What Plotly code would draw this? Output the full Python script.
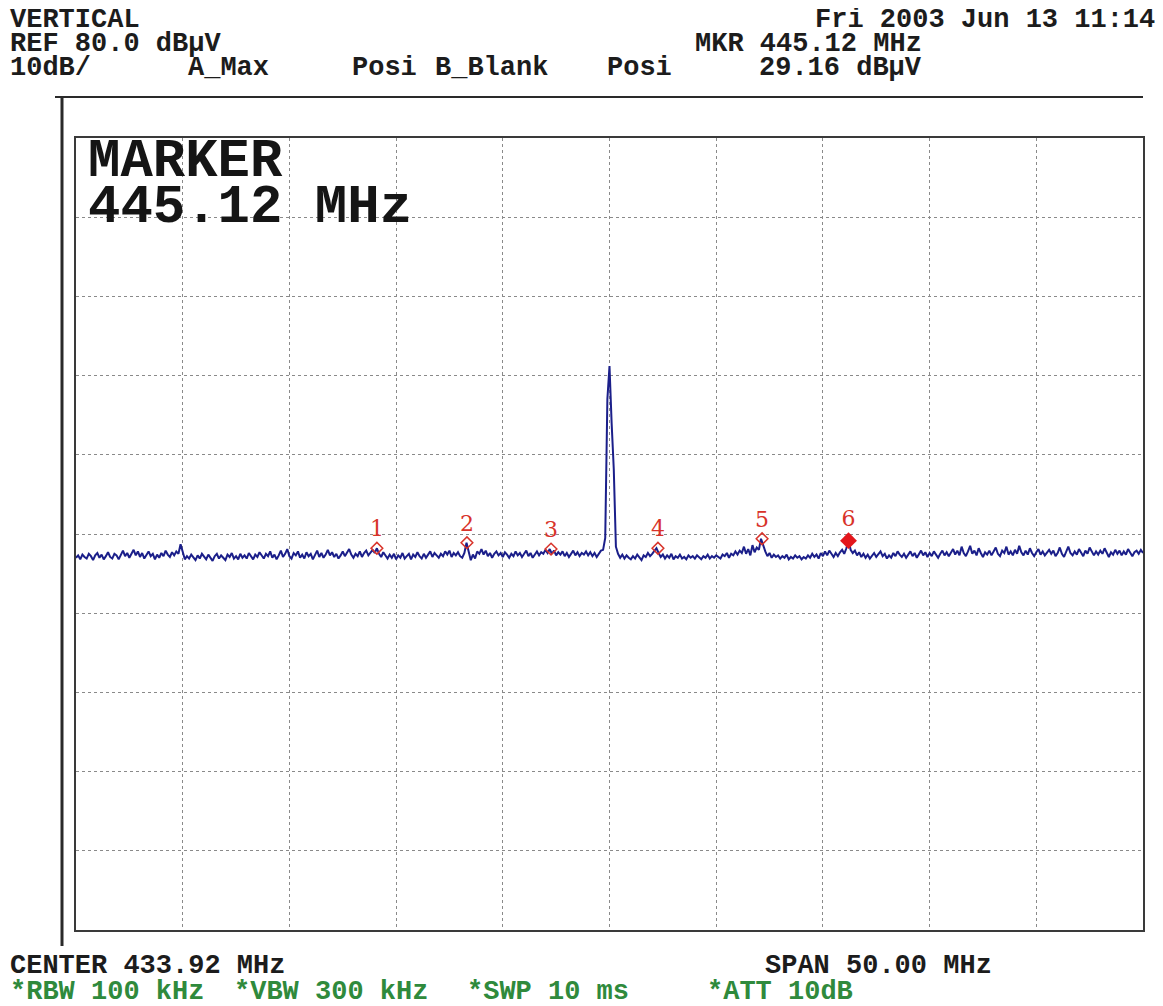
"""
Spectrum analyzer screen capture recreated with Plotly: noise floor + one carrier.
"""

import plotly.graph_objects as go

CENTER_MHZ = 433.92
SPAN_MHZ = 50.0
REF_DBUV = 80.0
DB_PER_DIV = 10.0
STEP_MHZ = 0.1

# trace A (max hold), one value per 0.1 MHz from the left edge of the screen
levels = [
    27.0, 27.3, 26.8, 27.4, 27.1, 26.9, 27.5, 27.2, 26.7, 27.3,
    27.6, 27.0, 27.4, 26.8, 27.2, 27.7, 27.1, 26.9, 27.5, 27.3,
    26.8, 27.4, 27.9, 27.2, 27.6, 27.0, 27.5, 28.0, 27.3, 27.8,
    27.1, 27.6, 26.9, 27.3, 27.8, 27.2, 27.5, 26.8, 27.4, 27.0,
    27.6, 27.2, 27.9, 27.4, 27.1, 27.7, 27.3, 27.8, 27.5, 28.7,
    27.6, 26.8, 27.2, 26.9, 27.4, 27.0, 26.7, 27.3, 26.9, 27.5,
    27.1, 26.8, 27.4, 27.0, 26.6, 27.2, 27.5, 26.9, 27.3, 27.0,
    26.7, 27.4, 27.1, 27.6, 26.9, 27.2, 26.8, 27.5, 27.0, 27.3,
    26.9, 27.6, 27.2, 26.8, 27.4, 27.1, 27.7, 27.3, 26.9, 27.5,
    27.2, 27.8, 27.0, 27.4, 26.8, 27.3, 27.9, 27.1, 27.5, 28.1,
    27.2, 26.9, 27.6, 27.3, 27.8, 27.0, 27.4, 26.9, 27.7, 27.2,
    27.5, 26.8, 27.3, 27.9, 27.1, 27.6, 27.0, 27.4, 28.0, 27.3,
    27.7, 27.1, 27.5, 26.9, 27.3, 27.8, 27.2, 27.6, 28.1, 27.4,
    27.0, 27.5, 27.2, 27.8, 27.1, 27.6, 27.9, 27.3, 27.7, 28.0,
    27.6, 28.2, 27.5, 27.1, 27.7, 27.3, 26.9, 27.4, 27.0, 27.5,
    26.8, 27.3, 27.0, 27.6, 26.9, 27.2, 27.5, 26.8, 27.4, 27.1,
    27.7, 27.2, 26.9, 27.5, 27.0, 27.4, 27.8, 27.1, 27.6, 27.3,
    27.0, 27.5, 27.2, 27.8, 27.4, 27.9, 27.1, 27.6, 27.3, 27.7,
    27.2, 27.0, 27.6, 28.9, 27.8, 26.7, 27.4, 26.9, 27.8, 27.5,
    28.1, 27.4, 27.9, 27.2, 27.6, 27.0, 27.5, 27.8, 27.3, 27.6,
    27.1, 27.7, 27.4, 27.0, 27.5, 27.2, 27.8, 27.3, 27.6, 27.1,
    27.5, 27.9, 27.2, 27.6, 27.0, 27.4, 27.8, 27.3, 27.7, 27.5,
    28.0, 27.6, 28.1, 27.5, 27.9, 27.3, 27.7, 27.4, 27.8, 27.2,
    27.6, 27.1, 27.5, 27.9, 27.3, 27.7, 27.2, 27.6, 27.4, 27.8,
    27.3, 27.7, 27.2, 27.6, 27.1, 27.5, 27.9, 28.0, 29.5, 47.0,
    51.2, 44.0, 38.2, 28.4, 27.5, 27.0, 27.4, 26.9, 27.3, 27.0,
    26.8, 27.2, 26.9, 27.4, 27.0, 26.7, 27.3, 27.1, 27.6, 27.2,
    27.5, 27.8, 28.2, 27.6, 27.1, 27.4, 26.9, 27.3, 27.0, 27.5,
    26.8, 27.2, 27.0, 27.4, 26.9, 27.1, 26.8, 27.3, 27.0, 27.2,
    26.9, 27.3, 27.1, 26.8, 27.2, 27.0, 27.4, 26.9, 27.2, 27.0,
    27.3, 27.1, 26.9, 27.4, 27.2, 27.6, 27.0, 27.5, 27.3, 27.8,
    27.4, 27.9, 27.6, 28.4, 27.5, 28.1, 27.3, 28.6, 27.7, 28.3,
    28.0, 29.4, 28.5, 27.8, 27.2, 27.6, 27.0, 27.4, 27.1, 27.3,
    26.9, 27.2, 27.0, 27.4, 26.8, 27.1, 26.9, 27.3, 27.0, 27.2,
    26.8, 27.1, 26.9, 27.3, 27.0, 27.5, 27.1, 27.4, 26.9, 27.6,
    27.2, 27.8, 27.3, 27.9, 27.5, 27.1, 27.6, 27.2, 27.7, 28.0,
    27.5, 28.2, 29.2, 28.0, 27.6, 27.9, 27.3, 27.7, 27.1, 27.5,
    27.0, 27.4, 26.9, 27.3, 27.6, 27.1, 27.4, 27.8, 27.2, 27.5,
    26.9, 27.3, 27.0, 27.6, 27.2, 27.8, 27.4, 27.1, 27.5, 27.0,
    27.4, 27.8, 27.2, 27.6, 27.0, 27.5, 27.9, 27.3, 27.7, 27.1,
    27.6, 27.2, 27.8, 27.4, 27.0, 27.5, 27.9, 27.3, 27.7, 27.2,
    27.6, 28.1, 27.4, 27.9, 27.3, 28.4, 27.6, 27.2, 27.8, 28.5,
    27.5, 27.9, 27.3, 28.2, 27.6, 27.1, 27.7, 27.4, 27.9, 27.3,
    27.8, 28.3, 27.5, 27.2, 27.9, 27.6, 28.4, 27.4, 27.8, 27.3,
    28.0, 27.5, 28.5, 27.7, 27.3, 27.9, 27.4, 28.2, 27.6, 27.2,
    27.7, 28.1, 27.4, 27.8, 27.3, 27.6, 28.0, 27.5, 27.9, 27.2,
    27.6, 28.3, 27.5, 27.1, 27.7, 28.4, 27.6, 27.3, 27.8, 27.4,
    28.1, 27.6, 27.2, 27.9, 27.5, 28.3, 27.7, 27.3, 27.8, 27.4,
    27.9, 27.5, 28.2, 27.6, 27.1, 27.7, 27.4, 28.0, 27.5, 27.9,
    27.3, 27.8, 27.4, 28.1, 27.6, 27.2, 27.7, 27.9, 27.5, 28.0,
    27.6,
]

marker_labels = ["1", "2", "3", "4", "5", "6"]
marker_mhz = [423.02, 427.24, 431.18, 436.19, 441.07, 445.12]
marker_dbuv = [28.2, 28.9, 28.1, 28.2, 29.4, 29.16]

f_start = CENTER_MHZ - SPAN_MHZ / 2
f_stop = CENTER_MHZ + SPAN_MHZ / 2
freqs = [f_start + i * STEP_MHZ for i in range(len(levels))]

# the page body adds 8 px, so the figure is 8 px smaller and layout pixels
# below are given in screen coordinates then shifted
OFF = 8
W, H = 1163 - OFF, 1006 - OFF
L, R, T, B = 76 - OFF, 20, 138 - OFF, 76
PW, PH = W - L - R, H - T - B


def px(x):
    return (x - OFF - L) / PW


def py(y):
    return (H - B - (y - OFF)) / PH


HDR_FONT = dict(family="Liberation Mono", size=27, color="#1c1c1c", weight="bold")
BIG_FONT = dict(family="Liberation Mono", size=54, color="#151515", weight="bold")
GREEN = "#2f8a3c"
RED = "#d8332a"

fig = go.Figure()
fig.add_trace(go.Scatter(
    x=freqs, y=levels, mode="lines",
    line=dict(color="#1b1f8a", width=2),
    hoverinfo="skip",
))
# inactive markers 1..5
fig.add_trace(go.Scatter(
    x=marker_mhz[:5], y=marker_dbuv[:5], mode="markers+text",
    text=marker_labels[:5], textposition="top center",
    textfont=dict(family="DejaVu Serif", size=22, color=RED),
    marker=dict(symbol="diamond-open", size=9, color=RED, line=dict(width=1.5)),
))
# active marker 6
fig.add_trace(go.Scatter(
    x=marker_mhz[5:], y=marker_dbuv[5:], mode="markers+text",
    text=marker_labels[5:], textposition="top center",
    textfont=dict(family="DejaVu Serif", size=22, color=RED),
    marker=dict(symbol="diamond", size=13, color="#e3161b"),
))

ax_common = dict(
    showgrid=True, gridcolor="#8a8a8a", griddash="dot", gridwidth=1,
    showline=True, linecolor="#3a3a3a", linewidth=2, mirror=True,
    showticklabels=False, ticks="", zeroline=False, fixedrange=True,
)
fig.update_xaxes(range=[f_start, f_stop], tick0=f_start, dtick=SPAN_MHZ / 10, **ax_common)
fig.update_yaxes(range=[REF_DBUV - 10 * DB_PER_DIV, REF_DBUV], tick0=REF_DBUV, dtick=DB_PER_DIV, **ax_common)

# header / footer text, placed in screen pixels
texts = [
    ("VERTICAL", 8, 20, "left", HDR_FONT),
    ("REF 80.0 dBμV", 8, 44, "left", HDR_FONT),
    ("10dB/", 8, 68, "left", HDR_FONT),
    ("A_Max", 186, 68, "left", HDR_FONT),
    ("Posi", 350, 68, "left", HDR_FONT),
    ("B_Blank", 433, 68, "left", HDR_FONT),
    ("Posi", 605, 68, "left", HDR_FONT),
    ("Fri 2003 Jun 13 11:14", 1157, 20, "right", HDR_FONT),
    ("MKR 445.12 MHz", 693, 44, "left", HDR_FONT),
    ("29.16 dBμV", 757, 68, "left", HDR_FONT),
    ("CENTER 433.92 MHz", 8, 966, "left", HDR_FONT),
    ("SPAN 50.00 MHz", 763, 966, "left", HDR_FONT),
    ("*RBW 100 kHz", 8, 992, "left", dict(HDR_FONT, color=GREEN)),
    ("*VBW 300 kHz", 232, 992, "left", dict(HDR_FONT, color=GREEN)),
    ("*SWP 10 ms", 465, 992, "left", dict(HDR_FONT, color=GREEN)),
    ("*ATT 10dB", 705, 992, "left", dict(HDR_FONT, color=GREEN)),
    ("MARKER", 86, 161, "left", BIG_FONT),
    ("445.12 MHz", 86, 207, "left", BIG_FONT),
]
for s, x, y, anchor, font in texts:
    fig.add_annotation(
        text=s, x=px(x), y=py(y), xref="paper", yref="paper",
        xanchor=anchor, yanchor="middle", showarrow=False, font=font,
    )

# screen frame: header rule and left edge
fig.add_shape(type="line", xref="paper", yref="paper",
              x0=px(55), x1=px(1143), y0=py(97), y1=py(97),
              line=dict(color="#2a2a2a", width=2))
fig.add_shape(type="line", xref="paper", yref="paper",
              x0=px(62), x1=px(62), y0=py(97), y1=py(946),
              line=dict(color="#2a2a2a", width=3))

fig.update_layout(
    width=W, height=H,
    margin=dict(l=L, r=R, t=T, b=B),
    paper_bgcolor="white", plot_bgcolor="white",
    showlegend=False,
)

fig.write_html("out.html")
